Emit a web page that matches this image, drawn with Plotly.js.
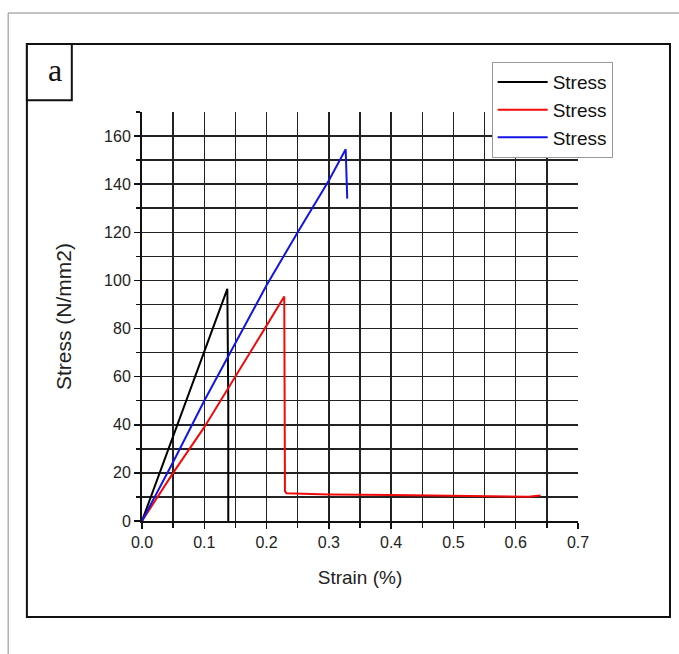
<!DOCTYPE html>
<html>
<head>
<meta charset="utf-8">
<script src="https://cdn.plot.ly/plotly-3.0.1.min.js"></script>
<style>html,body{margin:0;padding:0;background:#fff;}#chart{width:679px;height:654px;}</style>
</head>
<body>
<div id="chart"></div>
<script>
// Series data (strain %, stress N/mm2)
const blackStrain = [0, 0.05, 0.10, 0.137, 0.1385, 0.1385];
const blackStress = [0, 35.2, 70.4, 96.5, 50, 0];

const redStrain = [0, 0.05, 0.10, 0.1466, 0.20, 0.2284, 0.229, 0.2295, 0.232, 0.30, 0.40, 0.50, 0.60, 0.62, 0.64];
const redStress = [0, 20, 39, 58.4, 81.2, 93.3, 50, 12.4, 11.5, 11.0, 10.8, 10.6, 10.2, 10.1, 10.6];

const blueStrain = [0, 0.05, 0.10, 0.20, 0.25, 0.30, 0.327, 0.3295];
const blueStress = [0, 24.5, 50, 98, 120, 141.5, 154.5, 134];

const seriesNames = ["Stress", "Stress", "Stress"];
const xTitle = "Strain (%)";
const yTitle = "Stress (N/mm2)";
const panelLabel = "a";

const font = "Liberation Sans, Arial, sans-serif";

const traces = [
  {x: blackStrain, y: blackStress, name: seriesNames[0], legendgroup: "g1", mode: "lines", line: {color: "#000000", width: 2}},
  {x: redStrain, y: redStress, name: seriesNames[1], legendgroup: "g2", mode: "lines", line: {color: "#f00a0a", width: 2}},
  {x: blueStrain, y: blueStress, name: seriesNames[2], legendgroup: "g3", mode: "lines", line: {color: "#1414e6", width: 2}}
];

const layout = {
  width: 679, height: 654,
  margin: {l: 142, r: 101, t: 112, b: 133},
  paper_bgcolor: "#ffffff", plot_bgcolor: "#ffffff",
  font: {family: font, color: "#222", size: 16},
  showlegend: true,
  legend: {
    x: 0.802, y: 1.122, xanchor: "left", yanchor: "top",
    bgcolor: "#ffffff", bordercolor: "#999", borderwidth: 1,
    font: {family: font, size: 19, color: "#111"},
    tracegroupgap: 0, itemwidth: 50
  },
  xaxis: {
    range: [0, 0.7], dtick: 0.1, tick0: 0, tickformat: ".1f",
    showline: true, linecolor: "#111", linewidth: 2,
    ticks: "outside", ticklen: 6, tickwidth: 1.5, tickcolor: "#111",
    showgrid: true, gridcolor: "#222", gridwidth: 1.5,
    minor: {dtick: 0.05, showgrid: true, gridcolor: "#222", gridwidth: 1.5, ticks: "outside", ticklen: 5, tickcolor: "#111"},
    zeroline: false,
    tickfont: {family: font, size: 16, color: "#222"},
    title: {text: xTitle, font: {family: font, size: 19, color: "#222"}, standoff: 20}
  },
  yaxis: {
    range: [0, 170], dtick: 20, tick0: 0,
    showline: true, linecolor: "#111", linewidth: 2,
    ticks: "outside", ticklen: 6, tickwidth: 1.5, tickcolor: "#111",
    showgrid: true, gridcolor: "#222", gridwidth: 1.5,
    minor: {dtick: 10, showgrid: true, gridcolor: "#222", gridwidth: 1.5, ticks: "outside", ticklen: 4, tickcolor: "#111"},
    zeroline: false,
    tickfont: {family: font, size: 16, color: "#222"},
    title: {text: yTitle, font: {family: font, size: 21, color: "#222"}, standoff: 27}
  },
  shapes: [
    // outer frame (left and top edges)
    {type: "line", xref: "paper", yref: "paper", x0: -0.307, x1: -0.307, y0: 1.242, y1: -0.33, line: {color: "#888", width: 1}},
    {type: "line", xref: "paper", yref: "paper", x0: -0.307, x1: 1.235, y0: 1.242, y1: 1.242, line: {color: "#888", width: 1}},
    // inner frame
    {type: "rect", xref: "paper", yref: "paper", x0: -0.264, x1: 1.211, y0: -0.235, y1: 1.166, line: {color: "#111", width: 2}},
    // panel label box
    {type: "rect", xref: "paper", yref: "paper", x0: -0.264, x1: -0.161, y0: 1.029, y1: 1.166, line: {color: "#111", width: 2}, fillcolor: "#fff"}
  ],
  annotations: [
    {text: panelLabel, xref: "paper", yref: "paper", x: -0.2, y: 1.103, xanchor: "center", yanchor: "middle", showarrow: false,
     font: {family: "Liberation Serif, DejaVu Serif, serif", size: 32, color: "#111"}}
  ]
};

Plotly.newPlot("chart", traces, layout, {staticPlot: true, displayModeBar: false});
</script>
</body>
</html>
